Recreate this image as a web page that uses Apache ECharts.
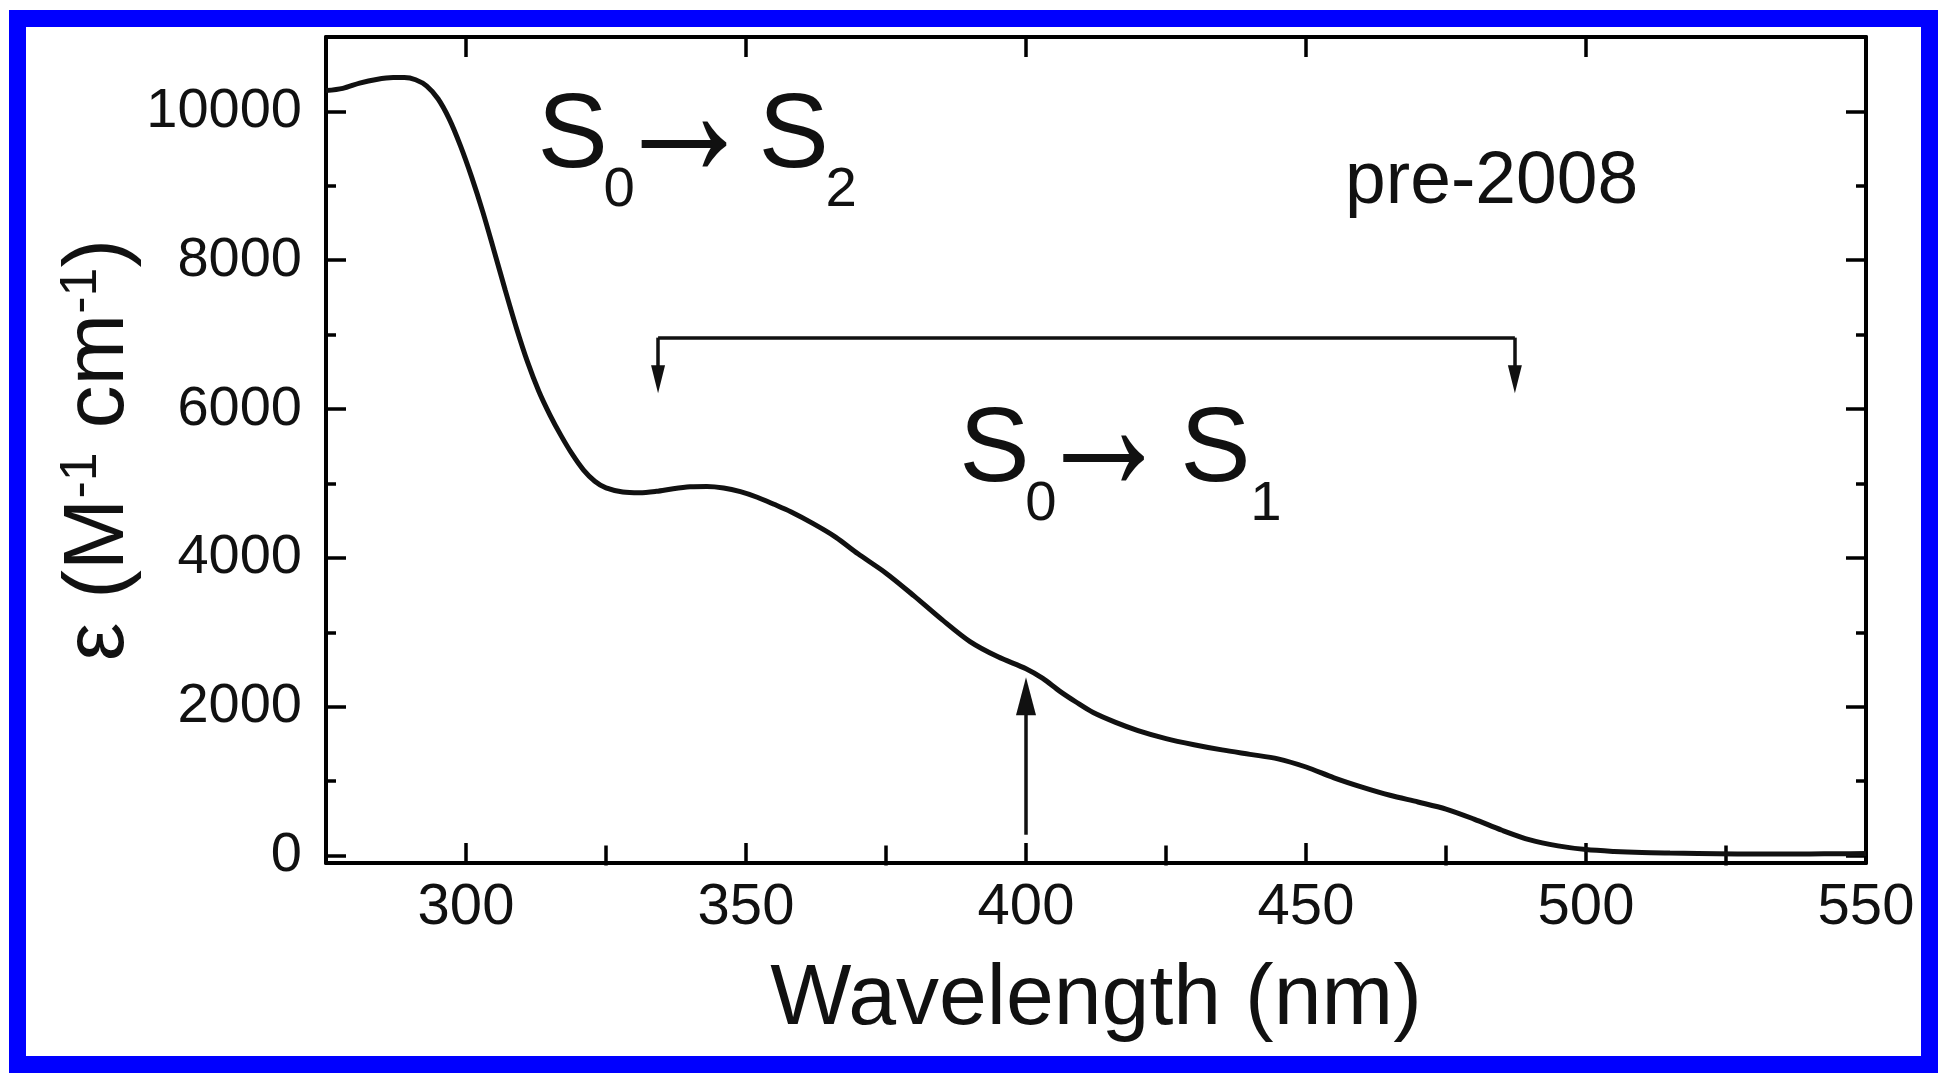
<!DOCTYPE html>
<html><head><meta charset="utf-8">
<script src="https://cdn.jsdelivr.net/npm/echarts@6/dist/echarts.min.js"></script>
<style>html,body{margin:0;padding:0;background:#fff;}#c{width:1950px;height:1086px;}</style>
</head><body><div id="c"></div>
<script>
// ---- data ----
const wavelengths = [275,278,281,284,287,289,291,293,295,297,299,301,303,305,307,309,311,313,315,317,319,321,323,325,328,331,334,337,340,343,346,349,352,355,358,362,366,370,375,380,385,390,395,400,403,406,409,412,416,420,425,430,435,440,445,450,455,460,465,470,475,480,485,490,495,500,505,510,515,520,527,535,540,545,550];
const epsilon =     [10280,10310,10380,10430,10455,10455,10425,10340,10170,9900,9540,9120,8650,8130,7600,7090,6630,6240,5920,5640,5390,5180,5030,4940,4885,4875,4895,4930,4955,4960,4940,4890,4815,4720,4620,4460,4280,4055,3795,3490,3170,2875,2670,2510,2380,2210,2060,1922,1790,1680,1572,1490,1420,1360,1300,1190,1045,920,810,720,625,490,340,210,130,80,55,40,33,28,22,20,22,25,27];
const xMajorTicks = [300,350,400,450,500,550];
const xMinorTicks = [325,375,425,475,525];
const yMajorTicks = [0,2000,4000,6000,8000,10000];
const yMinorTicks = [1000,3000,5000,7000,9000];
const xRange = [275, 550];
const yRange = [-100, 11000];
// annotation anchors, in data units
const bracketX = [334.3, 487.3];
const bracketY = [6960, 6400];
const upArrowX = 400;
const upArrowY = [280, 2140];
const s02Anchor = [313.5, 9247];   // ink left / baseline of first "S"
const s01Anchor = [388.8, 5033];
const preAnchor = [457.7, 8773];

const FONT = '"Liberation Sans", Arial, Helvetica, sans-serif';
const FAM = 'Liberation Sans';
const ARROWFAM = 'Liberation Sans';
const chart = echarts.init(document.getElementById('c'), null, {renderer: 'canvas'});

function axisBase(extra) {
  return Object.assign({
    type: 'value', splitLine: {show: false}, minorTick: {show: false},
    axisLine: {show: false}, axisLabel: {show: false},
    axisTick: {show: false}
  }, extra);
}
const lineStyleAxis = {color: '#000', width: 4};
function majorTick(vals) { return {show: true, inside: true, length: 20, lineStyle: {color: '#000', width: 3.5}, customValues: vals}; }
function minorTickCfg(vals) { return {show: true, inside: true, length: 10, lineStyle: {color: '#000', width: 3.5}, customValues: vals}; }
const plain = v => String(v);

const xAxes = [
  axisBase({position: 'bottom', min: xRange[0], max: xRange[1],
    axisLine: {show: true, onZero: false, lineStyle: lineStyleAxis},
    axisTick: majorTick(xMajorTicks),
    axisLabel: {show: true, customValues: xMajorTicks, formatter: plain, margin: 16, color: '#111', fontSize: 58, fontFamily: FONT},
    name: 'Wavelength (nm)', nameLocation: 'middle', nameGap: 94,
    nameTextStyle: {color: '#111', fontSize: 86, fontFamily: FONT}}),
  axisBase({position: 'bottom', min: xRange[0], max: xRange[1], axisTick: minorTickCfg(xMinorTicks)}),
  axisBase({position: 'top', min: xRange[0], max: xRange[1],
    axisLine: {show: true, onZero: false, lineStyle: lineStyleAxis}, axisTick: majorTick(xMajorTicks)}),
  axisBase({position: 'top', min: xRange[0], max: xRange[1], axisTick: minorTickCfg(xMinorTicks)})
];
const yAxes = [
  axisBase({position: 'left', min: yRange[0], max: yRange[1],
    axisLine: {show: true, onZero: false, lineStyle: lineStyleAxis},
    axisTick: majorTick(yMajorTicks),
    axisLabel: {show: true, customValues: yMajorTicks, formatter: plain, margin: 24, color: '#111', fontSize: 56, fontFamily: FONT}}),
  axisBase({position: 'left', min: yRange[0], max: yRange[1], axisTick: minorTickCfg(yMinorTicks)}),
  axisBase({position: 'right', min: yRange[0], max: yRange[1],
    axisLine: {show: true, onZero: false, lineStyle: lineStyleAxis}, axisTick: majorTick(yMajorTicks)}),
  axisBase({position: 'right', min: yRange[0], max: yRange[1], axisTick: minorTickCfg(yMinorTicks)})
];

const curve = wavelengths.map((w, i) => [w, epsilon[i]]);

const option = {
  animation: false,
  backgroundColor: '#fff',
  grid: {left: 326, right: 84, top: 37, bottom: 223, containLabel: false},
  xAxis: xAxes,
  yAxis: yAxes,
  series: [{
    type: 'line', xAxisIndex: 0, yAxisIndex: 0, data: curve,
    smooth: 0.3, showSymbol: false, symbol: 'none',
    lineStyle: {color: '#111', width: 5},
    markLine: {
      silent: true, animation: false,
      label: {show: false},
      lineStyle: {color: '#111', width: 3.5, type: 'solid'},
      symbol: ['none', 'none'],
      data: [
        [{coord: [bracketX[0], bracketY[0]], symbol: 'none'}, {coord: [bracketX[0], bracketY[1]], symbol: 'triangle', symbolSize: [14, 28]}],
        [{coord: [bracketX[0], bracketY[0]], symbol: 'none'}, {coord: [bracketX[1], bracketY[0]], symbol: 'none'}],
        [{coord: [bracketX[1], bracketY[0]], symbol: 'none'}, {coord: [bracketX[1], bracketY[1]], symbol: 'triangle', symbolSize: [14, 28]}],
        [{coord: [upArrowX, upArrowY[0]], symbol: 'none'}, {coord: [upArrowX, upArrowY[1]], symbol: 'triangle', symbolSize: [20, 38]}]
      ]
    }
  }]
};
chart.setOption(option);

// ---- text layout helpers (measure glyph ink with canvas) ----
const mctx = document.createElement('canvas').getContext('2d');
function measure(text, size, fam) {
  mctx.font = size + 'px "' + fam + '"';
  mctx.textAlign = 'left';
  mctx.textBaseline = 'alphabetic';
  const m0 = mctx.measureText(text);
  mctx.textBaseline = 'middle';
  const m1 = mctx.measureText(text);
  return {left: m1.actualBoundingBoxLeft, w: m1.actualBoundingBoxLeft + m1.actualBoundingBoxRight,
          asc: m1.actualBoundingBoxAscent, desc: m1.actualBoundingBoxDescent,
          shift: m1.actualBoundingBoxDescent - m0.actualBoundingBoxDescent};
}
function sizeForHeight(text, fam, h) {
  const m = measure(text, 100, fam);
  return 100 * h / (m.asc + m.desc);
}
// piece placed with ink-left at (x) and alphabetic baseline at (y)
function pieceBase(text, fam, size, x, y) {
  const m = measure(text, size, fam);
  return {type: 'text', silent: true, z: 100, x: x, y: y,
    style: {x: m.left, y: -m.shift, text: text, fontSize: size, fontFamily: fam, fill: '#111', align: 'left', verticalAlign: 'middle'}};
}
// piece placed with ink-left at x, ink vertical centre at y, ink box w x h
function pieceBox(text, fam, x, y, w, h) {
  const size = sizeForHeight(text, fam, h);
  const m = measure(text, size, fam);
  return {type: 'text', silent: true, z: 100, x: x, y: y, scaleX: w / m.w,
    style: {x: m.left, y: (m.asc - m.desc) / 2, text: text, fontSize: size, fontFamily: fam, fill: '#111', align: 'left', verticalAlign: 'middle'}};
}
function px(p) { return chart.convertToPixel({xAxisIndex: 0, yAxisIndex: 0}, p); }

const mainSize = sizeForHeight('S', FAM, 76);
const subSize = sizeForHeight('0', FAM, 40);
function transition(anchor, subA, subB, arrowW, subBdx) {
  const p = px(anchor);
  const x = p[0], b = p[1];
  return [
    pieceBase('S', FAM, mainSize, x, b),
    pieceBase(subA, FAM, subSize, x + 64, b + 39),
    pieceBox('\u2192', ARROWFAM, x + 100, b - 23.5, arrowW, 46),
    pieceBase('S', FAM, mainSize, x + 221, b),
    pieceBase(subB, FAM, subSize, x + subBdx, b + 39)
  ];
}
const pp = px(preAnchor);
const preSize = sizeForHeight('2008', FAM, 52);
const yF = 86, ySup = 52;
chart.setOption({graphic: [
  {type: 'rect', silent: true, z: 200, shape: {x: 17.5, y: 18.5, width: 1912, height: 1046},
    style: {fill: 'none', stroke: '#0000ff', lineWidth: 17}}
].concat(
  transition(s02Anchor, '0', '2', 85, 286),
  transition(s01Anchor, '0', '1', 81, 291),
  [pieceBase('pre-2008', FAM, preSize, pp[0], pp[1]),
  {type: 'text', silent: true, z: 100, x: 99, y: 450, rotation: Math.PI / 2,
    style: {x: 0, y: 0, align: 'center', verticalAlign: 'middle',
      text: '{a|\u03B5 (M}{u|-1}{a| cm}{u|-1}{a|)}',
      rich: {
        a: {fontSize: yF, fontFamily: FONT, lineHeight: yF, verticalAlign: 'bottom', fill: '#111'},
        u: {fontSize: ySup, fontFamily: FONT, lineHeight: ySup, padding: [0, 0, 40, 0], verticalAlign: 'top', fill: '#111'}
      }}}]
)});
</script></body></html>
